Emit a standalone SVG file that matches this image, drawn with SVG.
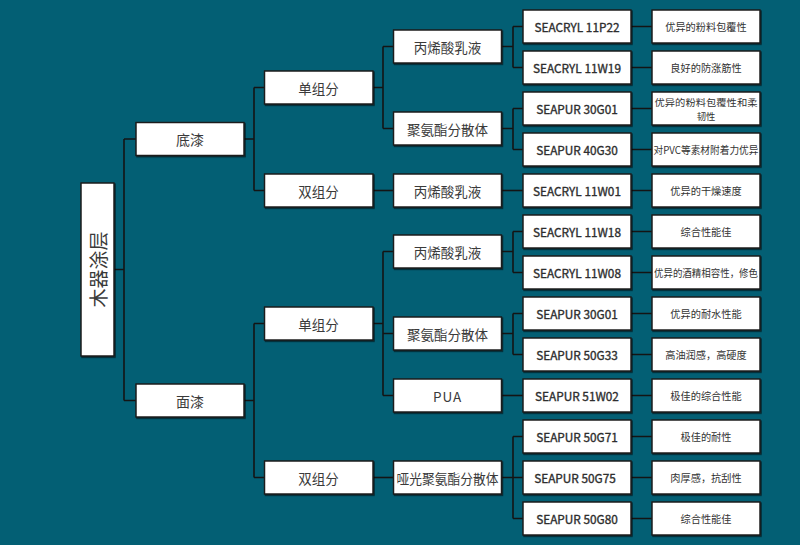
<svg xmlns="http://www.w3.org/2000/svg" width="800" height="545" viewBox="0 0 800 545">
<defs>
<filter id="sh" x="-10%" y="-10%" width="120%" height="130%">
<feDropShadow dx="1" dy="1.2" stdDeviation="0.6" flood-color="#000" flood-opacity="0.6"/>
</filter>
<style>
.b{fill:#fff;stroke:#1e1e1e;stroke-width:1.5;filter:url(#sh)}
text{font-family:"Noto Sans CJK SC","Noto Sans",sans-serif;fill:#3a3a3a;text-anchor:middle;dominant-baseline:central}
.t1{font-size:14px}
.t2{font-size:13.5px}
.t4{font-size:11.8px;fill:#2e2e2e;stroke:#2e2e2e;stroke-width:0.35}
.t5{font-size:10.2px;fill:#333}
.c{fill:none;stroke:#141414;stroke-width:1.6}
</style>
</defs>
<rect width="800" height="545" fill="#035f74"/>
<g id="connectors" class="c">
<path d="M114,269.5H124M124,139V400.5M124,139H136M124,400.5H136"/>
<path d="M244,139H254M254,87.5V190.5M254,87.5H264M254,190.5H264"/>
<path d="M244,400.5H254M254,323.5V477.5M254,323.5H264M254,477.5H264"/>
<path d="M373,87.5H383M383,46.5V128.5M383,46.5H393M383,128.5H393"/>
<path d="M373,190.5H393"/>
<path d="M373,323.5H383M383,251.5V395.5M383,251.5H393M383,333.5H393M383,395.5H393"/>
<path d="M373,477.5H393"/>
<path d="M502,46.5H513M513,26.5V67.5M513,26.5H523M513,67.5H523"/>
<path d="M502,128.5H513M513,108.5V149.5M513,108.5H523M513,149.5H523"/>
<path d="M502,190.5H523"/>
<path d="M502,251.5H513M513,231.5V272.5M513,231.5H523M513,272.5H523"/>
<path d="M502,333.5H513M513,313.5V354.5M513,313.5H523M513,354.5H523"/>
<path d="M502,395.5H523"/>
<path d="M502,477.5H513M513,436.5V518.5M513,436.5H523M513,477.5H523M513,518.5H523"/>
<path d="M631,26.5H652M631,67.5H652M631,108.5H652M631,149.5H652M631,190.5H652M631,231.5H652M631,272.5H652M631,313.5H652M631,354.5H652M631,395.5H652M631,436.5H652M631,477.5H652M631,518.5H652"/>
</g>
<g id="root"><rect class="b" x="81" y="183" width="33" height="173"/><text transform="translate(97.5,269.5) rotate(-90)" style="font-size:19px">木器涂层</text></g>
<g id="dq"><rect class="b" x="136" y="122.5" width="108" height="33"/><text class="t1" x="190" y="139">底漆</text></g>
<g id="mq"><rect class="b" x="136" y="384" width="108" height="33"/><text class="t1" x="190" y="400.5">面漆</text></g>
<g id="dq-single"><rect class="b" x="264.5" y="71" width="108.5" height="33"/><text class="t2" x="318.5" y="87.5">单组分</text></g>
<g id="dq-double"><rect class="b" x="264.5" y="174" width="108.5" height="33"/><text class="t2" x="318.5" y="190.5">双组分</text></g>
<g id="mq-single"><rect class="b" x="264.5" y="307" width="108.5" height="33"/><text class="t2" x="318.5" y="323.5">单组分</text></g>
<g id="mq-double"><rect class="b" x="264.5" y="461" width="108.5" height="33"/><text class="t2" x="318.5" y="477.5">双组分</text></g>
<g id="l3-1"><rect class="b" x="393.5" y="30" width="108" height="33"/><text class="t2" x="447.5" y="46.5">丙烯酸乳液</text></g>
<g id="l3-2"><rect class="b" x="393.5" y="112" width="108" height="33"/><text class="t2" x="447.5" y="128.5">聚氨酯分散体</text></g>
<g id="l3-3"><rect class="b" x="393.5" y="174" width="108" height="33"/><text class="t2" x="447.5" y="190.5">丙烯酸乳液</text></g>
<g id="l3-4"><rect class="b" x="393.5" y="235" width="108" height="33"/><text class="t2" x="447.5" y="251.5">丙烯酸乳液</text></g>
<g id="l3-5"><rect class="b" x="393.5" y="317" width="108" height="33"/><text class="t2" x="447.5" y="333.5">聚氨酯分散体</text></g>
<g id="l3-6"><rect class="b" x="393.5" y="379" width="108" height="33"/><text class="t2" x="447.5" y="395.5" style="letter-spacing:1px">PUA</text></g>
<g id="l3-7"><rect class="b" x="393.5" y="461" width="108" height="33"/><text class="t2" x="447.5" y="477.5" textLength="102" lengthAdjust="spacingAndGlyphs">哑光聚氨酯分散体</text></g>
<g id="p1"><rect class="b" x="523" y="10" width="108" height="33"/><text class="t4" x="577" y="26.5">SEACRYL 11P22</text></g>
<g id="p2"><rect class="b" x="523" y="51" width="108" height="33"/><text class="t4" x="577" y="67.5">SEACRYL 11W19</text></g>
<g id="p3"><rect class="b" x="523" y="92" width="108" height="33"/><text class="t4" x="577" y="108.5">SEAPUR 30G01</text></g>
<g id="p4"><rect class="b" x="523" y="133" width="108" height="33"/><text class="t4" x="577" y="149.5">SEAPUR 40G30</text></g>
<g id="p5"><rect class="b" x="523" y="174" width="108" height="33"/><text class="t4" x="577" y="190.5">SEACRYL 11W01</text></g>
<g id="p6"><rect class="b" x="523" y="215" width="108" height="33"/><text class="t4" x="577" y="231.5">SEACRYL 11W18</text></g>
<g id="p7"><rect class="b" x="523" y="256" width="108" height="33"/><text class="t4" x="577" y="272.5">SEACRYL 11W08</text></g>
<g id="p8"><rect class="b" x="523" y="297" width="108" height="33"/><text class="t4" x="577" y="313.5">SEAPUR 30G01</text></g>
<g id="p9"><rect class="b" x="523" y="338" width="108" height="33"/><text class="t4" x="577" y="354.5">SEAPUR 50G33</text></g>
<g id="p10"><rect class="b" x="523" y="379" width="108" height="33"/><text class="t4" x="577" y="395.5">SEAPUR 51W02</text></g>
<g id="p11"><rect class="b" x="523" y="420" width="108" height="33"/><text class="t4" x="577" y="436.5">SEAPUR 50G71</text></g>
<g id="p12"><rect class="b" x="523" y="461" width="108" height="33"/><text class="t4" x="575" y="477.5">SEAPUR 50G75</text></g>
<g id="p13"><rect class="b" x="523" y="502" width="108" height="33"/><text class="t4" x="577" y="518.5">SEAPUR 50G80</text></g>
<g id="f1"><rect class="b" x="652" y="10" width="108" height="33"/><text class="t5" x="706" y="26.5">优异的粉料包覆性</text></g>
<g id="f2"><rect class="b" x="652" y="51" width="108" height="33"/><text class="t5" x="706" y="67.5">良好的防涨筋性</text></g>
<g id="f3"><rect class="b" x="652" y="92" width="108" height="33"/><text class="t5" style="font-size:9.3px"><tspan x="706" y="101.5" textLength="103" lengthAdjust="spacingAndGlyphs">优异的粉料包覆性和柔</tspan><tspan x="706" y="115.5">韧性</tspan></text></g>
<g id="f4"><rect class="b" x="652" y="133" width="108" height="33"/><text class="t5" x="706" y="149.5" textLength="105" lengthAdjust="spacingAndGlyphs">对PVC等素材附着力优异</text></g>
<g id="f5"><rect class="b" x="652" y="174" width="108" height="33"/><text class="t5" x="706" y="190.5">优异的干燥速度</text></g>
<g id="f6"><rect class="b" x="652" y="215" width="108" height="33"/><text class="t5" x="706" y="231.5">综合性能佳</text></g>
<g id="f7"><rect class="b" x="652" y="256" width="108" height="33"/><text class="t5" x="706" y="272.5" textLength="104" lengthAdjust="spacingAndGlyphs">优异的酒精相容性，修色</text></g>
<g id="f8"><rect class="b" x="652" y="297" width="108" height="33"/><text class="t5" x="706" y="313.5">优异的耐水性能</text></g>
<g id="f9"><rect class="b" x="652" y="338" width="108" height="33"/><text class="t5" x="706" y="354.5">高油润感，高硬度</text></g>
<g id="f10"><rect class="b" x="652" y="379" width="108" height="33"/><text class="t5" x="706" y="395.5">极佳的综合性能</text></g>
<g id="f11"><rect class="b" x="652" y="420" width="108" height="33"/><text class="t5" x="706" y="436.5">极佳的耐性</text></g>
<g id="f12"><rect class="b" x="652" y="461" width="108" height="33"/><text class="t5" x="706" y="477.5">肉厚感，抗刮性</text></g>
<g id="f13"><rect class="b" x="652" y="502" width="108" height="33"/><text class="t5" x="706" y="518.5">综合性能佳</text></g>
</svg>
